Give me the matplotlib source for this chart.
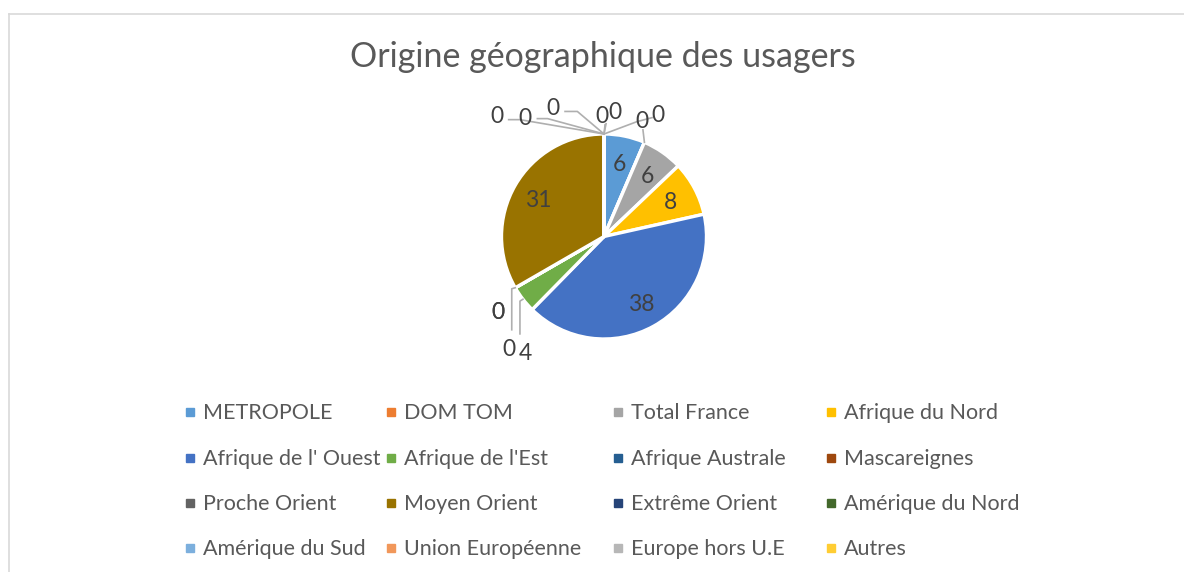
import numpy as np
import matplotlib.pyplot as plt
from matplotlib.lines import Line2D

plt.rcParams['font.family'] = ['Lato', 'DejaVu Sans']

# --- data ---
title = "Origine géographique des usagers"
categories = ["METROPOLE", "DOM TOM", "Total France", "Afrique du Nord",
              "Afrique de l' Ouest", "Afrique de l'Est", "Afrique Australe", "Mascareignes",
              "Proche Orient", "Moyen Orient", "Extrême Orient", "Amérique du Nord",
              "Amérique du Sud", "Union Européenne", "Europe hors U.E", "Autres"]
values = [6, 0, 6, 8, 38, 4, 0, 0, 0, 31, 0, 0, 0, 0, 0, 0]
colors = ["#5B9BD5", "#ED7D31", "#A5A5A5", "#FFC000", "#4472C4", "#70AD47",
          "#255E91", "#9E480E", "#636363", "#997300", "#264478", "#43682B",
          "#7CAFDD", "#F1975A", "#B7B7B7", "#FFCD33"]

# label placement for the labels Excel pushed outside (pie-radius units):
# index -> (text position, leader line bend points)
outside = {
    1: ((0.37, 1.14), [(0.38, 1.04)]),
    5: ((-0.77, -1.12), [(-0.82, -0.63), (-0.82, -0.95)]),
    6: ((-1.03, -0.72), []),
    7: ((-1.03, -0.72), []),
    8: ((-0.93, -1.08), [(-0.90, -0.51), (-0.90, -0.91)]),
    10: ((-1.04, 1.19), [(-0.82, 1.14), (-0.93, 1.14)]),
    11: ((-0.77, 1.17), [(-0.55, 1.15), (-0.65, 1.15)]),
    12: ((-0.50, 1.27), [(-0.26, 1.22), (-0.38, 1.22)]),
    13: ((-0.02, 1.19), [(0.01, 1.09)]),
    14: ((0.11, 1.23), [(0.02, 1.10)]),
    15: ((0.53, 1.20), [(0.32, 1.12), (0.47, 1.16)]),
}

W, H = 1184, 572
R = 102.5            # pie radius in pixels
cx, cy = 604, 236.5  # pie centre in pixels (from top)

fig = plt.figure(figsize=(W / 100, H / 100), dpi=100)

# chart area border (only top and left visible in the crop)
border = '#D9D9D9'
fig.add_artist(Line2D([8.5 / W, 1], [1 - 13.5 / H] * 2, color=border, lw=1.2,
                      transform=fig.transFigure))
fig.add_artist(Line2D([8.5 / W] * 2, [0, 1 - 13.5 / H], color=border, lw=1.2,
                      transform=fig.transFigure))

fig.text(603 / W, 1 - 57 / H, title, ha='center', va='center',
         fontsize=24.5, color='#595959')

ax = fig.add_axes([(cx - 300) / W, (H - cy - 200) / H, 600 / W, 400 / H])
wedges, _ = ax.pie(values, colors=colors, startangle=90, counterclock=False,
                   radius=1, wedgeprops=dict(edgecolor='white', linewidth=2.4))
ax.set_aspect('auto')
ax.set_xlim(-300 / R, 300 / R)
ax.set_ylim(-200 / R, 200 / R)
ax.axis('off')

lbl_col = '#404040'
for i, (w, v) in enumerate(zip(wedges, values)):
    mid = np.deg2rad((w.theta1 + w.theta2) / 2)
    if i in outside:
        (tx, ty), bends = outside[i]
        if bends:
            pts = [(np.cos(mid), np.sin(mid))] + bends
            ax.plot([p[0] for p in pts], [p[1] for p in pts], color='#AFAFAF', lw=1.2)
        ax.text(tx, ty, str(v), ha='center', va='center_baseline', fontsize=16.5, color=lbl_col)
    else:
        ax.text(0.74 * np.cos(mid), 0.74 * np.sin(mid), str(v), ha='center',
                va='center_baseline', fontsize=16.5, color=lbl_col)

# legend, 4 columns laid out like the Excel one
col_x = [186, 387, 614, 827]
row_y = [411, 457, 502, 547]
for i, (name, c) in enumerate(zip(categories, colors)):
    x = col_x[i % 4]
    y = row_y[i // 4]
    fig.add_artist(Line2D([(x + 4) / W], [1 - (y + 1) / H], marker='s', markersize=6,
                          color=c, linestyle='none', transform=fig.transFigure))
    fig.text((x + 17) / W, 1 - (y + 2) / H, name, ha='left', va='center',
             fontsize=15.5, color='#595959')

fig.savefig('out.png', dpi=100)
